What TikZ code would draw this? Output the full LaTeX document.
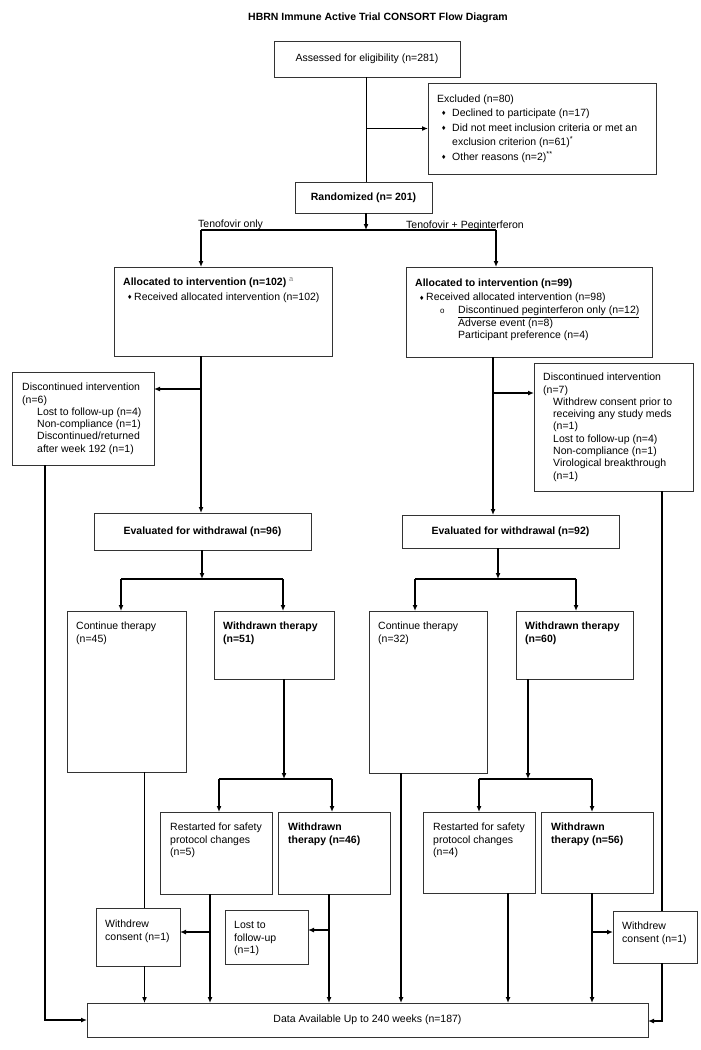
\documentclass[tikz,border=0pt]{standalone}
\usepackage{fontspec}
\setmainfont{Liberation Sans}
\newfontfamily\symfont{DejaVu Sans}
\usetikzlibrary{arrows.meta}
\newcommand\bul{{\symfont\fontsize{6}{6}\selectfont\raisebox{0.6pt}{♦}}}
\newcommand\lns[1]{\begin{tabular}[t]{@{}l@{}}#1\end{tabular}}
\begin{document}
\begin{tikzpicture}[x=1pt,y=-1pt,
  box/.style={draw=black!80, line width=0.9pt, inner sep=0pt, outer sep=0pt, anchor=north west, font=\fontsize{10.5}{12.3}\selectfont},
  txt/.style={inner sep=0pt, anchor=base west, font=\fontsize{10.5}{12.3}\selectfont},
  ln/.style={line width=1.4pt, black},
  ar/.style={ln, -{Latex[length=6pt,width=5pt]}},
]
\useasboundingbox[fill=white] (0,0) rectangle (701,1050);

\node[font=\bfseries\fontsize{10.5}{12}\selectfont, anchor=base, inner sep=0pt] (title) at (378,20) {HBRN Immune Active Trial CONSORT Flow Diagram};

% boxes
\node[box, minimum width=186pt, minimum height=36pt] (assess) at (274,41) {Assessed for eligibility (n=281)};
\node[box, minimum width=228pt, minimum height=91pt] (excl) at (428,83) {};
\node[box, minimum width=137pt, minimum height=31pt, font=\bfseries\fontsize{10.5}{12.3}\selectfont] (rand) at (295,182) {Randomized (n= 201)};
\node[box, minimum width=218pt, minimum height=89pt] (allocL) at (114,267) {};
\node[box, minimum width=246pt, minimum height=90pt] (allocR) at (406,267) {};
\node[box, minimum width=142pt, minimum height=93pt] (discL) at (12,372) {};
\node[box, minimum width=159pt, minimum height=128pt] (discR) at (534,363) {};
\node[box, minimum width=217pt, minimum height=37pt, font=\bfseries\fontsize{10.5}{12.3}\selectfont] (evalL) at (94,513) {Evaluated for withdrawal (n=96)};
\node[box, minimum width=217pt, minimum height=33pt, font=\bfseries\fontsize{10.5}{12.3}\selectfont] (evalR) at (402,515) {Evaluated for withdrawal (n=92)};
\node[box, minimum width=119pt, minimum height=161pt] (contL) at (67,611) {};
\node[box, minimum width=120pt, minimum height=68pt] (wdL) at (214,611) {};
\node[box, minimum width=118pt, minimum height=162pt] (contR) at (369,611) {};
\node[box, minimum width=117pt, minimum height=68pt] (wdR) at (516,611) {};
\node[box, minimum width=112pt, minimum height=82pt] (rsL) at (160,812) {};
\node[box, minimum width=112pt, minimum height=82pt] (wd2L) at (278,812) {};
\node[box, minimum width=112pt, minimum height=81pt] (rsR) at (423,812) {};
\node[box, minimum width=112pt, minimum height=81pt] (wd2R) at (541,812) {};
\node[box, minimum width=84pt, minimum height=58pt] (wcL) at (96,908) {};
\node[box, minimum width=83pt, minimum height=54pt] (lost) at (225,910) {};
\node[box, minimum width=84pt, minimum height=52pt] (wcR) at (613,911) {};
\node[box, minimum width=561pt, minimum height=34pt] (data) at (87,1003) {Data Available Up to 240 weeks (n=187)};

% texts
\node[txt] (exclT) at (437,102) {Excluded (n=80)};
\node[txt, font=\fontsize{10.5}{14.6}\selectfont] (exclL) at (441,116.5) {\lns{%
\makebox[11pt][l]{\bul}Declined to participate (n=17)\\
\makebox[11pt][l]{\bul}Did not meet inclusion criteria or met an\\
\hspace{11pt}exclusion criterion (n=61)\textsuperscript{*}\\
\makebox[11pt][l]{\bul}Other reasons (n=2)\textsuperscript{**}}};

\node[txt] (labL) at (198,227.5) {Tenofovir only};
\node[txt] (labR) at (406,228) {Tenofovir + Peginterferon};

\node[txt] (allocLT) at (123,285.5) {\lns{%
\textbf{Allocated to intervention (n=102)} \textsuperscript{\textcolor{gray}{a}}\\[2.2pt]
\hspace{4pt}\makebox[7pt][l]{\bul}Received allocated intervention (n=102)}};

\node[txt] (allocRT) at (415,286.5) {\lns{%
\textbf{Allocated to intervention (n=99)}\\[1.8pt]
\hspace{4pt}\makebox[7pt][l]{\bul}Received allocated intervention (n=98)\\[0.8pt]
\hspace{25pt}\makebox[18pt][l]{\fontsize{8}{8}\selectfont o}\underline{Discontinued peginterferon only (n=12)}\\
\hspace{43pt}Adverse event (n=8)\\
\hspace{43pt}Participant preference (n=4)}};

\node[txt] (discLT) at (22,390.7) {\lns{%
Discontinued intervention\\
(n=6)\\
\hspace{15pt}Lost to follow-up (n=4)\\
\hspace{15pt}Non-compliance (n=1)\\
\hspace{15pt}Discontinued/returned\\
\hspace{15pt}after week 192 (n=1)}};

\node[txt] (discRT) at (543,380.7) {\lns{%
Discontinued intervention\\
(n=7)\\
\hspace{10pt}Withdrew consent prior to\\
\hspace{10pt}receiving any study meds\\
\hspace{10pt}(n=1)\\
\hspace{10pt}Lost to follow-up (n=4)\\
\hspace{10pt}Non-compliance (n=1)\\
\hspace{10pt}Virological breakthrough\\
\hspace{10pt}(n=1)}};

\node[txt] (contLT) at (76,629.7) {\lns{Continue therapy\\(n=45)}};
\node[txt, font=\bfseries\fontsize{10.5}{12.3}\selectfont] (wdLT) at (223,629.7) {\lns{Withdrawn therapy\\(n=51)}};
\node[txt] (contRT) at (378,629.7) {\lns{Continue therapy\\(n=32)}};
\node[txt, font=\bfseries\fontsize{10.5}{12.3}\selectfont] (wdRT) at (525,629.7) {\lns{Withdrawn therapy\\(n=60)}};

\node[txt, font=\fontsize{10.5}{12.5}\selectfont] (rsLT) at (170,830.7) {\lns{Restarted for safety\\protocol changes\\(n=5)}};
\node[txt, font=\bfseries\fontsize{10.5}{12.5}\selectfont] (wd2LT) at (288,830.7) {\lns{Withdrawn\\therapy (n=46)}};
\node[txt, font=\fontsize{10.5}{12.5}\selectfont] (rsRT) at (433,830.7) {\lns{Restarted for safety\\protocol changes\\(n=4)}};
\node[txt, font=\bfseries\fontsize{10.5}{12.5}\selectfont] (wd2RT) at (551,830.7) {\lns{Withdrawn\\therapy (n=56)}};

\node[txt, font=\fontsize{10.5}{12.5}\selectfont] (wcLT) at (105,927.7) {\lns{Withdrew\\consent (n=1)}};
\node[txt, font=\fontsize{10.5}{12.5}\selectfont] (lostT) at (234,928.7) {\lns{Lost to\\follow-up\\(n=1)}};
\node[txt, font=\fontsize{10.5}{12.5}\selectfont] (wcRT) at (622,929.7) {\lns{Withdrew\\consent (n=1)}};

% connectors
\coordinate (vA) at (366.5,0);
\draw[ln] (vA |- assess.south) -- (vA |- rand.north);
\draw[ar] (vA |- excl.west) -- (excl.west);
\coordinate (split) at (366,230);
\draw[ar] (split |- rand.south) -- (split);
\coordinate (jL) at (201,230);
\coordinate (jR) at (496,230);
\draw[ln] (jL) -- (jR);
\draw[ar] (jL) -- (jL |- allocL.north);
\draw[ar] (jR) -- (jR |- allocR.north);

\coordinate (bL) at (201,389);
\draw[ar] (bL |- allocL.south) -- (bL |- evalL.north);
\draw[ar] (bL) -- (bL -| discL.east);
\coordinate (bR) at (493,393);
\draw[ar] (bR |- allocR.south) -- (bR |- evalR.north);
\draw[ar] (bR) -- (bR -| discR.west);

\coordinate (cL) at (45,1020);
\draw[ar] (cL |- discL.south) -- (cL) -- (data.west);
\coordinate (cR) at (662,1021);
\draw[ln] (cR |- discR.south) -- (cR |- wcR.north);
\draw[ar] (cR |- wcR.south) -- (cR) -- (cR -| data.east);

\coordinate (eL) at (202,579);
\coordinate (eL1) at (121,579);
\coordinate (eL2) at (283,579);
\draw[ar] (eL |- evalL.south) -- (eL);
\draw[ln] (eL1) -- (eL2);
\draw[ar] (eL1) -- (eL1 |- contL.north);
\draw[ar] (eL2) -- (eL2 |- wdL.north);
\coordinate (eR) at (498,579);
\coordinate (eR1) at (415,579);
\coordinate (eR2) at (576,579);
\draw[ar] (eR |- evalR.south) -- (eR);
\draw[ln] (eR1) -- (eR2);
\draw[ar] (eR1) -- (eR1 |- contR.north);
\draw[ar] (eR2) -- (eR2 |- wdR.north);

\coordinate (fL) at (284,779);
\coordinate (fL1) at (219,779);
\coordinate (fL2) at (332,779);
\draw[ar] (fL |- wdL.south) -- (fL);
\draw[ln] (fL1) -- (fL2);
\draw[ar] (fL1) -- (fL1 |- rsL.north);
\draw[ar] (fL2) -- (fL2 |- wd2L.north);
\coordinate (fR) at (528,779);
\coordinate (fR1) at (479,779);
\coordinate (fR2) at (592,779);
\draw[ar] (fR |- wdR.south) -- (fR);
\draw[ln] (fR1) -- (fR2);
\draw[ar] (fR1) -- (fR1 |- rsR.north);
\draw[ar] (fR2) -- (fR2 |- wd2R.north);

\coordinate (gL) at (144.5,0);
\draw[ln] (gL |- contL.south) -- (gL |- wcL.north);
\draw[ar] (gL |- wcL.south) -- (gL |- data.north);
\coordinate (hL) at (210,932);
\draw[ar] (hL |- rsL.south) -- (hL |- data.north);
\draw[ar] (hL) -- (hL -| wcL.east);
\coordinate (kL) at (329,930);
\draw[ar] (kL |- wd2L.south) -- (kL |- data.north);
\draw[ar] (kL) -- (kL -| lost.east);
\coordinate (mR) at (401,0);
\draw[ar] (mR |- contR.south) -- (mR |- data.north);
\coordinate (nR) at (508,0);
\draw[ar] (nR |- rsR.south) -- (nR |- data.north);
\coordinate (pR) at (592,932);
\draw[ar] (pR |- wd2R.south) -- (pR |- data.north);
\draw[ar] (pR) -- (pR -| wcR.west);
\end{tikzpicture}
\end{document}
